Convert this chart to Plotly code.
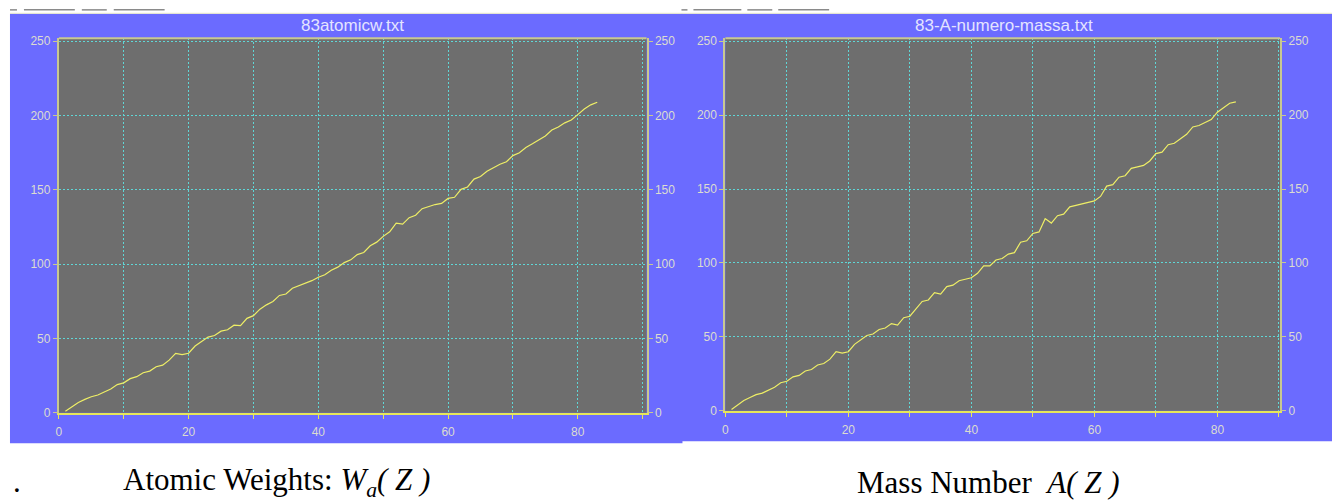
import plotly.graph_objects as go

W, H = 1332, 501

Z = list(range(1, 84))
atomic_weights = [
    1.008, 4.0026, 6.94, 9.0122, 10.81, 12.011, 14.007, 15.999, 18.998, 20.180,
    22.990, 24.305, 26.982, 28.085, 30.974, 32.06, 35.45, 39.948, 39.098, 40.078,
    44.956, 47.867, 50.942, 51.996, 54.938, 55.845, 58.933, 58.693, 63.546, 65.38,
    69.723, 72.630, 74.922, 78.971, 79.904, 83.798, 85.468, 87.62, 88.906, 91.224,
    92.906, 95.95, 98.0, 101.07, 102.91, 106.42, 107.87, 112.41, 114.82, 118.71,
    121.76, 127.60, 126.90, 131.29, 132.91, 137.33, 138.91, 140.12, 140.91, 144.24,
    145.0, 150.36, 151.96, 157.25, 158.93, 162.50, 164.93, 167.26, 168.93, 173.05,
    174.97, 178.49, 180.95, 183.84, 186.21, 190.23, 192.22, 195.08, 196.97, 200.59,
    204.38, 207.2, 208.98,
]
mass_numbers = [
    1, 4, 7, 9, 11, 12, 14, 16, 19, 20,
    23, 24, 27, 28, 31, 32, 35, 40, 39, 40,
    45, 48, 51, 52, 55, 56, 59, 58, 63, 64,
    69, 74, 75, 80, 79, 84, 85, 88, 89, 90,
    93, 98, 98, 102, 103, 106, 107, 114, 115, 120,
    121, 130, 127, 132, 133, 138, 139, 140, 141, 142,
    145, 152, 153, 158, 159, 164, 165, 166, 169, 174,
    175, 180, 181, 184, 187, 192, 193, 195, 197, 202,
    205, 208, 209,
]
x_tickvals = [0, 20, 40, 60, 80]
y_tickvals = [0, 50, 100, 150, 200, 250]
titles = ["83atomicw.txt", "83-A-numero-massa.txt"]


def px(x):
    return x / W


def py(y):
    return 1 - y / H


BLUE = "#6b6bff"
GREY = "#6e6e6e"
GRID = "#5fd6d6"
KHAKI = "#c8c890"
YEL = "#e6e65a"
LINE = "#eeee66"
LBL = "#dcdcd0"
TFONT = dict(family="Liberation Sans, Arial, sans-serif", size=12, color=LBL)
DASH = "2px,2px"

fig = go.Figure()

panels = [
    dict(x0=56, x1=645, y0=35, y1=418, xr=[0, 90.6], data=atomic_weights),
    dict(x0=724, x1=1280, y0=35, y1=416, xr=[0, 90.2], data=mass_numbers),
]

layout = dict(
    width=W, height=H, autosize=False,
    margin=dict(l=0, r=0, t=0, b=0),
    paper_bgcolor="white", plot_bgcolor=GREY,
    showlegend=False,
)

shapes = []
annotations = []

# blue panel backgrounds
shapes.append(dict(type="rect", xref="paper", yref="paper", x0=px(7), x1=px(681),
                   y0=py(449), y1=py(10), fillcolor=BLUE, line=dict(width=0), layer="below"))
shapes.append(dict(type="rect", xref="paper", yref="paper", x0=px(680), x1=px(1332),
                   y0=py(447), y1=py(10), fillcolor=BLUE, line=dict(width=0), layer="below"))
shapes.append(dict(type="line", xref="paper", yref="paper", x0=px(7), x1=px(1332),
                   y0=py(9.5), y1=py(9.5), line=dict(color="#e6e6c8", width=1)))
# small grey dashes at the very top
for a, b in [(7, 14), (21, 72), (79, 104), (111, 162), (680, 686), (692, 740), (746, 771), (777, 828)]:
    shapes.append(dict(type="line", xref="paper", yref="paper", x0=px(a), x1=px(b),
                       y0=py(6), y1=py(6), line=dict(color="#8a8a8a", width=1.5)))

for i, p in enumerate(panels):
    n = i + 1
    xa = "xaxis" if n == 1 else f"xaxis{n}"
    ya_l = 2 * n - 1
    ya_r = 2 * n
    yl_name = "yaxis" if ya_l == 1 else f"yaxis{ya_l}"
    yr_name = f"yaxis{ya_r}"
    xref = "x" if n == 1 else f"x{n}"
    yl_ref = "y" if ya_l == 1 else f"y{ya_l}"
    yr_ref = f"y{ya_r}"
    dom_x = [px(p["x0"]), px(p["x1"])]
    dom_y = [py(p["y1"]), py(p["y0"])]

    # grey plot area
    shapes.append(dict(type="rect", xref="paper", yref="paper", x0=dom_x[0], x1=dom_x[1],
                       y0=dom_y[0], y1=dom_y[1], fillcolor=GREY, line=dict(width=0),
                       layer="below"))

    layout[xa] = dict(domain=dom_x, anchor=yl_ref, range=p["xr"],
                      tickvals=x_tickvals, ticktext=[str(v) for v in x_tickvals],
                      ticks="outside", ticklen=4, tickcolor=YEL, tickfont=TFONT,
                      ticklabelstandoff=3,
                      showgrid=False,
                      minor=dict(dtick=10, tick0=0, ticks="outside", ticklen=4,
                                 tickcolor=YEL, showgrid=True, gridcolor=GRID,
                                 griddash=DASH, gridwidth=1),
                      zeroline=False, showline=True, linecolor=YEL, linewidth=2,
                      mirror=False, fixedrange=True)
    layout[yl_name] = dict(domain=dom_y, anchor=xref, range=[0, 252],
                           tickvals=y_tickvals, ticktext=[str(v) for v in y_tickvals],
                           ticks="outside", ticklen=4, tickcolor=KHAKI, tickfont=TFONT,
                           showgrid=True, gridcolor=GRID, griddash=DASH, gridwidth=1,
                           zeroline=False, showline=True, linecolor=KHAKI, linewidth=2,
                           fixedrange=True)
    layout[yr_name] = dict(anchor=xref, overlaying=yl_ref, side="right",
                           range=[0, 252], tickvals=y_tickvals,
                           ticktext=[str(v) for v in y_tickvals],
                           ticks="outside", ticklen=4, tickcolor=KHAKI, tickfont=TFONT,
                           showgrid=False, zeroline=False, showline=True,
                           linecolor=KHAKI, linewidth=2, fixedrange=True)
    # top border
    shapes.append(dict(type="line", xref="paper", yref="paper", x0=dom_x[0], x1=dom_x[1],
                       y0=dom_y[1], y1=dom_y[1], line=dict(color=KHAKI, width=2)))

    fig.add_trace(go.Scatter(x=Z, y=p["data"], mode="lines", xaxis=xref, yaxis=yl_ref,
                             line=dict(color=LINE, width=1.2), hoverinfo="skip"))
    # same data on the right-hand axis (invisible) so that axis is drawn
    fig.add_trace(go.Scatter(x=Z, y=p["data"], mode="lines", xaxis=xref, yaxis=yr_ref,
                             line=dict(color="rgba(0,0,0,0)", width=0), hoverinfo="skip"))

TTL = dict(family="Liberation Sans, Arial, sans-serif", size=17, color="#e4e4ff")
annotations.append(dict(text=titles[0], xref="paper", yref="paper", x=px(350), y=py(22),
                        xanchor="center", yanchor="middle", showarrow=False, font=TTL))
annotations.append(dict(text=titles[1], xref="paper", yref="paper", x=px(1003), y=py(22),
                        xanchor="center", yanchor="middle", showarrow=False, font=TTL))

CAP = dict(family="Liberation Serif, Times New Roman, serif", size=31, color="black")
annotations.append(dict(text=".", xref="paper", yref="paper", x=px(8), y=py(488),
                        xanchor="left", yanchor="middle", showarrow=False, font=CAP))
annotations.append(dict(text="Atomic Weights: <i>W<sub>a</sub>( Z )</i>", xref="paper", yref="paper",
                        x=px(118), y=py(489), xanchor="left", yanchor="middle",
                        showarrow=False, font=CAP))
annotations.append(dict(text="Mass Number  <i>A( Z )</i>", xref="paper", yref="paper",
                        x=px(854), y=py(489), xanchor="left", yanchor="middle",
                        showarrow=False, font=CAP))

layout["shapes"] = shapes
layout["annotations"] = annotations
fig.update_layout(**layout)

fig.write_html("out.html", config={"displayModeBar": False},
               post_script="document.body.style.margin='0';document.body.style.overflow='hidden';")
